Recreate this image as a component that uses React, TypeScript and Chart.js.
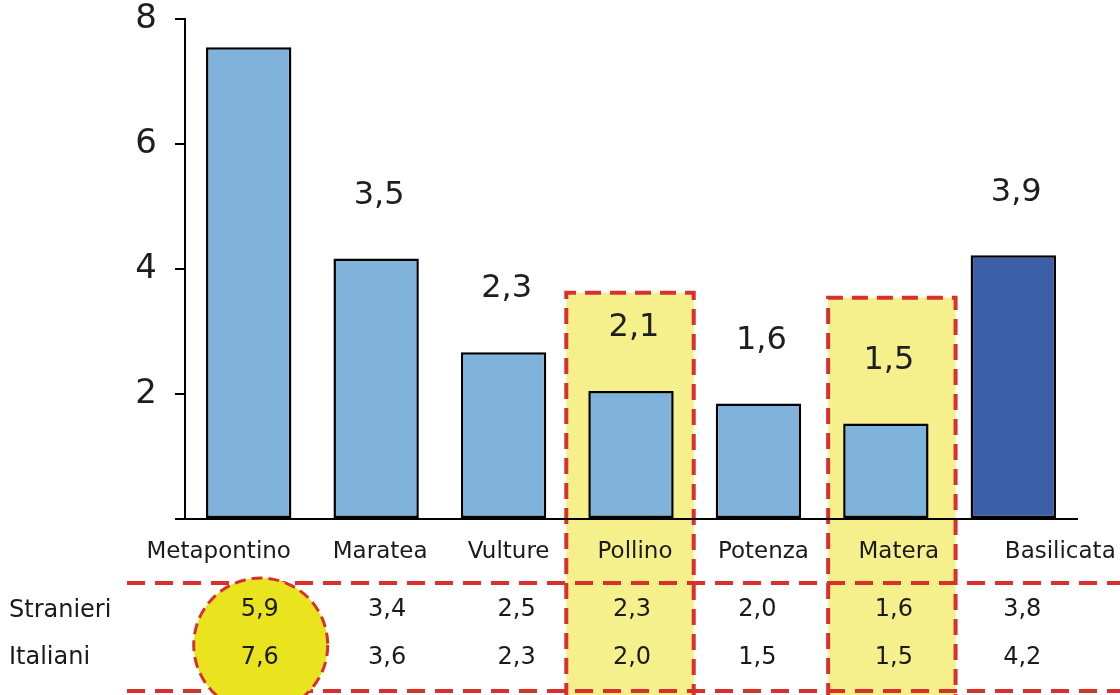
import React, { useEffect, useRef } from "react";
import { Chart, registerables } from "chart.js";

Chart.register(...registerables);

const categories = ["Metapontino", "Maratea", "Vulture", "Pollino", "Potenza", "Matera", "Basilicata"];
const barValues = [7.55, 4.17, 2.67, 2.05, 1.85, 1.53, 4.22];
const barLabels = ["", "3,5", "2,3", "2,1", "1,6", "1,5", "3,9"];
const rowLabels = ["Stranieri", "Italiani"];
const stranieri = ["5,9", "3,4", "2,5", "2,3", "2,0", "1,6", "3,8"];
const italiani = ["7,6", "3,6", "2,3", "2,0", "1,5", "1,5", "4,2"];
const yTickValues = [0, 2, 4, 6, 8];
const highlightedIdx = [3, 5];
const circledIdx = 0;

const LIGHT_BLUE = "#7fb3db";
const DARK_BLUE = "#3b5fa9";
const RED = "#d8302a";
const PALE_YELLOW = "#f6f08c";
const BRIGHT_YELLOW = "#e9e41e";
const FONT = "'DejaVu Sans', Verdana, sans-serif";

const tablePlugin = {
  id: "tablePlugin",
  beforeDraw(chart: any) {
    const ctx = chart.ctx;
    const x = chart.scales.x;
    const y = chart.scales.y;
    const half = (x.getPixelForValue(1) - x.getPixelForValue(0)) / 2;
    const tops = [y.getPixelForValue(3.62), y.getPixelForValue(3.54)];
    const shifts = [-1, 6];
    ctx.save();
    highlightedIdx.forEach((idx, k) => {
      const cx = x.getPixelForValue(idx) + shifts[k];
      const l = cx - half;
      const r = cx + half;
      const t = tops[k];
      const b = chart.height + 4;
      ctx.fillStyle = PALE_YELLOW;
      ctx.fillRect(l, t, r - l, b - t);
      ctx.strokeStyle = RED;
      ctx.lineWidth = 4;
      ctx.setLineDash([16, 9]);
      ctx.beginPath();
      ctx.moveTo(l, b);
      ctx.lineTo(l, t);
      ctx.lineTo(r, t);
      ctx.lineTo(r, b);
      ctx.stroke();
    });
    ctx.restore();
  },
  afterDatasetsDraw(chart: any) {
    const ctx = chart.ctx;
    const meta = chart.getDatasetMeta(0);
    ctx.save();
    ctx.font = `32px ${FONT}`;
    ctx.fillStyle = "#1e1e1e";
    ctx.textAlign = "center";
    ctx.textBaseline = "middle";
    meta.data.forEach((bar: any, i: number) => {
      if (barLabels[i]) ctx.fillText(barLabels[i], bar.x + 3, bar.y - 63);
    });
    ctx.restore();
  },
  afterDraw(chart: any) {
    const ctx = chart.ctx;
    const x = chart.scales.x;
    const W = chart.width;
    ctx.save();
    // category labels
    const labelShift = [-30, 4, 5, 4, 5, 13, 47];
    ctx.font = `23px ${FONT}`;
    ctx.fillStyle = "#1a1a1a";
    ctx.textAlign = "center";
    ctx.textBaseline = "middle";
    categories.forEach((c, i) => {
      ctx.fillText(c, x.getPixelForValue(i) + labelShift[i], 552);
    });
    // table dashed lines
    ctx.strokeStyle = RED;
    ctx.lineWidth = 4;
    ctx.setLineDash([18, 10]);
    [583, 691].forEach((ly) => {
      ctx.beginPath();
      ctx.moveTo(127, ly);
      ctx.lineTo(W, ly);
      ctx.stroke();
    });
    // circle
    const ccx = x.getPixelForValue(circledIdx) + 12;
    ctx.beginPath();
    ctx.arc(ccx, 645, 67, 0, Math.PI * 2);
    ctx.fillStyle = BRIGHT_YELLOW;
    ctx.fill();
    ctx.lineWidth = 3;
    ctx.setLineDash([11, 6]);
    ctx.strokeStyle = RED;
    ctx.stroke();
    ctx.setLineDash([]);
    // row labels
    ctx.font = `24px ${FONT}`;
    ctx.fillStyle = "#1a1a1a";
    ctx.textAlign = "left";
    ctx.fillText(rowLabels[0], 9, 611);
    ctx.fillText(rowLabels[1], 9, 658);
    // values
    ctx.font = `24px ${FONT}`;
    ctx.textAlign = "center";
    const valShift = [11, 11, 13, 1, -1, 8, 9];
    [stranieri, italiani].forEach((row, r) => {
      row.forEach((v, i) => {
        ctx.fillText(v, x.getPixelForValue(i) + valShift[i], r === 0 ? 610 : 658);
      });
    });
    ctx.restore();
  },
};

export default function App() {
  const ref = useRef<HTMLCanvasElement | null>(null);
  useEffect(() => {
    if (!ref.current) return;
    const chart = new Chart(ref.current, {
      type: "bar",
      data: {
        labels: categories,
        datasets: [
          {
            data: barValues,
            backgroundColor: categories.map((_, i) => (i === categories.length - 1 ? DARK_BLUE : LIGHT_BLUE)),
            borderColor: "#000",
            borderWidth: 2.5,
            borderSkipped: false,
            barPercentage: 0.67,
            categoryPercentage: 1,
          },
        ],
      },
      options: {
        animation: false,
        responsive: false,
        devicePixelRatio: 1,
        layout: { padding: { top: 19, right: 43, left: 0, bottom: 0 } },
        plugins: { legend: { display: false }, tooltip: { enabled: false } },
        scales: {
          x: {
            grid: { display: false },
            border: { display: true, color: "#000", width: 2 },
            ticks: { display: false },
            afterFit(scale: any) {
              scale.height = 176;
              scale.paddingLeft = 0;
              scale.paddingRight = 0;
            },
          },
          y: {
            min: 0,
            max: 8,
            afterBuildTicks(scale: any) {
              scale.ticks = yTickValues.map((v) => ({ value: v }));
            },
            ticks: {
              padding: 18,
              color: "#1e1e1e",
              font: { family: FONT, size: 34 },
              callback: (v: any) => (v === 0 ? "" : String(v)),
            },
            grid: { drawOnChartArea: false, drawTicks: true, tickLength: 10, color: "#000", lineWidth: 2 },
            border: { display: true, color: "#000", width: 2 },
            afterFit(scale: any) {
              scale.width = 185;
              scale.paddingTop = 0;
              scale.paddingBottom = 0;
            },
          },
        },
      },
      plugins: [tablePlugin],
    });
    return () => chart.destroy();
  }, []);
  return (
    <div style={{ position: "fixed", left: 0, top: 0, width: 1120, height: 695, background: "#fff" }}>
      <canvas ref={ref} width={1120} height={695} />
    </div>
  );
}
